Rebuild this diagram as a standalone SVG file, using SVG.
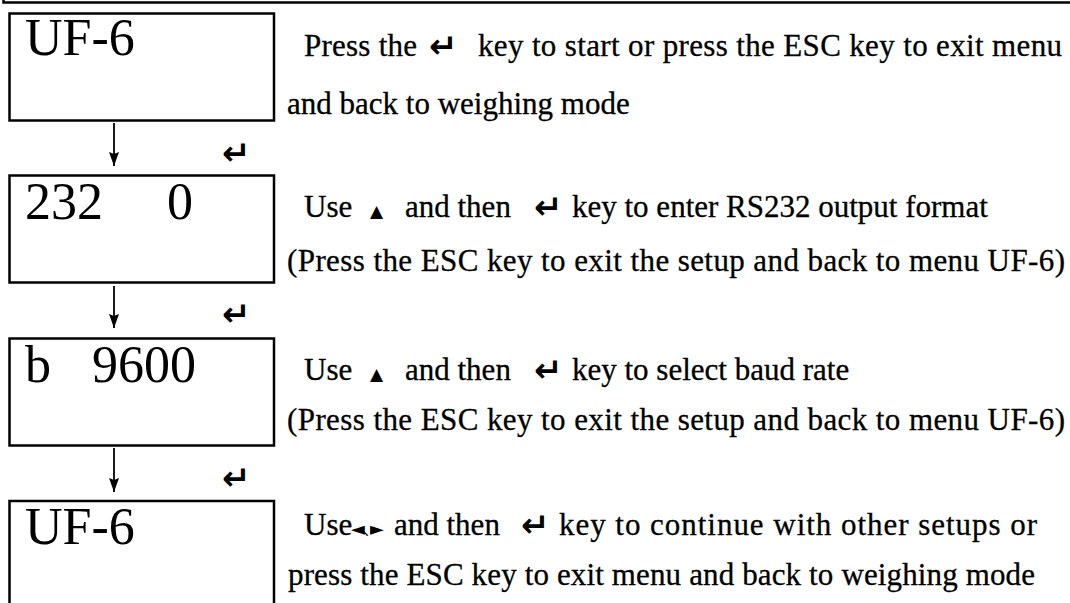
<svg xmlns="http://www.w3.org/2000/svg" width="1070" height="603" viewBox="0 0 1070 603">
<style>
.box{fill:none;stroke:#000;stroke-width:2.5}
.disp{font-family:"Liberation Serif","Times New Roman",serif;font-size:52px;fill:#000}
.t{font-family:"Liberation Serif","Times New Roman",serif;font-size:31px;fill:#000;stroke:#000;stroke-width:0.3}
.sym{font-family:"DejaVu Sans","Noto Sans CJK JP",sans-serif;font-size:17px;fill:#000}
.ptr{font-family:"Noto Sans CJK JP","DejaVu Sans",sans-serif;font-size:18px;fill:#000}
.ret{font-family:"DejaVu Sans",sans-serif;font-weight:bold;font-size:34px;fill:#000}
.conn{stroke:#000;stroke-width:1.8;fill:none}
</style>
<defs>
<marker id="ah" markerWidth="14" markerHeight="10" refX="14" refY="5" orient="auto" markerUnits="userSpaceOnUse" viewBox="0 0 14 10">
<path d="M0,0 L14,5 L0,10 L2,5 Z" fill="#000"/>
</marker>
</defs>
<rect width="1070" height="603" fill="#fff"/>
<path id="frame" d="M3.5,0 V2.5 H1070" fill="none" stroke="#000" stroke-width="2.5"/>

<g id="node1">
<rect class="box" x="9.5" y="13.5" width="264.5" height="107"/>
<text class="disp" x="25" y="55">UF-6</text>
</g>
<g id="node2">
<rect class="box" x="9.5" y="175.5" width="264.5" height="107"/>
<text class="disp" x="25" y="219">232</text>
<text class="disp" x="167" y="219">0</text>
</g>
<g id="node3">
<rect class="box" x="9.5" y="338.5" width="264.5" height="107"/>
<text class="disp" x="25" y="382">b</text>
<text class="disp" x="92" y="382">9600</text>
</g>
<g id="node4">
<path class="box" d="M9.5,610 V501 H274 V610"/>
<text class="disp" x="25" y="544">UF-6</text>
</g>

<g id="desc1">
<text class="t" x="304" y="56" textLength="113">Press the</text>
<text class="ret" x="429" y="57.5">↵</text>
<text class="t" x="478" y="56" textLength="584">key to start or press the ESC key to exit menu</text>
<text class="t" x="287" y="114">and back to weighing mode</text>
</g>
<g id="desc2">
<text class="t" x="304" y="217">Use</text>
<text class="sym" x="370" y="217">▲</text>
<text class="t" x="405" y="217">and then</text>
<text class="ret" x="534" y="218.5">↵</text>
<text class="t" x="572" y="217">key to enter RS232 output format</text>
<text class="t" x="287" y="271" textLength="778">(Press the ESC key to exit the setup and back to menu UF-6)</text>
</g>
<g id="desc3">
<text class="t" x="304" y="380">Use</text>
<text class="sym" x="370" y="380">▲</text>
<text class="t" x="405" y="380">and then</text>
<text class="ret" x="534" y="381.5">↵</text>
<text class="t" x="572" y="380">key to select baud rate</text>
<text class="t" x="287" y="430" textLength="778">(Press the ESC key to exit the setup and back to menu UF-6)</text>
</g>
<g id="desc4">
<text class="t" x="304" y="535">Use</text>
<text class="ptr" y="535"><tspan x="351">◄</tspan><tspan x="363" font-size="15">、</tspan><tspan x="370">►</tspan></text>
<text class="t" x="394" y="535">and then</text>
<text class="ret" x="521" y="536.5">↵</text>
<text class="t" x="559" y="535" textLength="478">key to continue with other setups or</text>
<text class="t" x="288" y="585" textLength="747">press the ESC key to exit menu and back to weighing mode</text>
</g>

<g id="connectors">
<line class="conn" x1="114" y1="123" x2="114" y2="166" marker-end="url(#ah)"/>
<line class="conn" x1="114" y1="286" x2="114" y2="328" marker-end="url(#ah)"/>
<line class="conn" x1="114" y1="448" x2="114" y2="492" marker-end="url(#ah)"/>
<text class="ret" x="222" y="164.5">↵</text>
<text class="ret" x="222" y="325.5">↵</text>
<text class="ret" x="222" y="489.5">↵</text>
</g>
</svg>
